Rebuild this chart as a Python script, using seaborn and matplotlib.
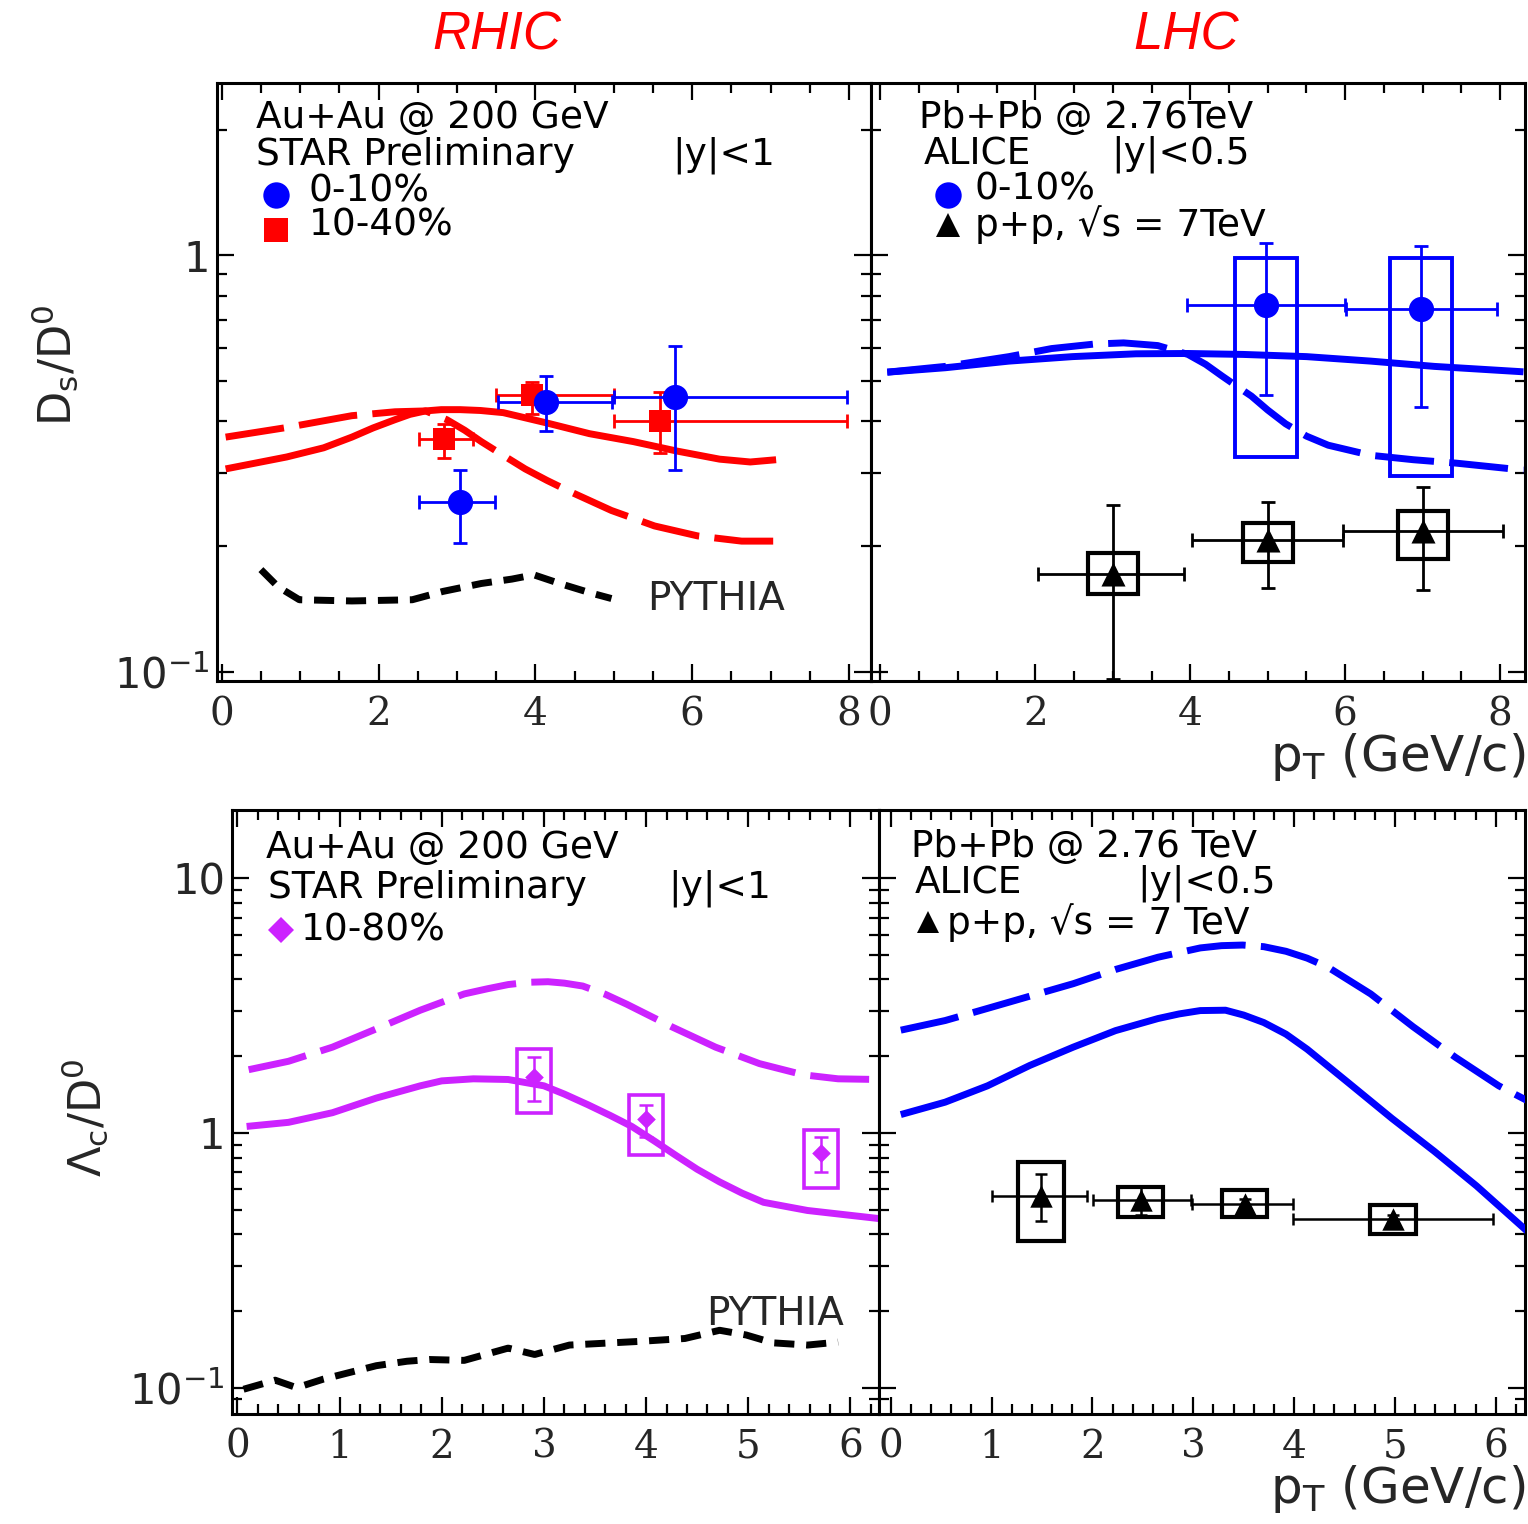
import numpy as np
import pandas as pd
import matplotlib
matplotlib.use("Agg")
import matplotlib.pyplot as plt
import seaborn as sns
from matplotlib.patches import Rectangle
from matplotlib.ticker import FixedLocator, MultipleLocator, NullFormatter, FixedFormatter

# ---------------- data ----------------
# Ds/D0 at RHIC (Au+Au 200 GeV, STAR preliminary)
rhic_ds_c_pt = [3.04, 4.14, 5.78]
rhic_ds_c_val = [0.256, 0.445, 0.456]
rhic_ds_c_xlo = [2.51, 3.52, 5.00]
rhic_ds_c_xhi = [3.48, 4.98, 7.97]
rhic_ds_c_ylo = [0.204, 0.379, 0.306]
rhic_ds_c_yhi = [0.306, 0.513, 0.604]

rhic_ds_m_pt = [2.83, 3.96, 5.59]
rhic_ds_m_val = [0.362, 0.463, 0.401]
rhic_ds_m_xlo = [2.51, 3.50, 5.00]
rhic_ds_m_xhi = [3.20, 5.00, 7.97]
rhic_ds_m_ylo = [0.327, 0.417, 0.335]
rhic_ds_m_yhi = [0.394, 0.496, 0.469]

rhic_ds_solid_pt = [0.05, 0.83, 1.30, 1.66, 1.93, 2.21, 2.40, 2.60, 2.80, 3.04, 3.30,
                    3.59, 3.85, 4.14, 4.69, 5.25, 5.80, 6.35, 6.74, 7.07]
rhic_ds_solid = [0.307, 0.328, 0.345, 0.366, 0.385, 0.403, 0.415, 0.423, 0.426, 0.426, 0.424,
                 0.419, 0.408, 0.396, 0.373, 0.357, 0.339, 0.324, 0.319, 0.323]
rhic_ds_dash_pt = [0.05, 0.83, 1.66, 2.21, 2.60, 2.87, 3.10, 3.31, 3.60, 3.87, 4.15,
                   4.42, 4.97, 5.52, 6.07, 6.63, 7.07]
rhic_ds_dash = [0.366, 0.386, 0.412, 0.421, 0.423, 0.403, 0.380, 0.357, 0.330, 0.307, 0.288,
                0.272, 0.244, 0.224, 0.212, 0.206, 0.206]
rhic_ds_pythia_pt = [0.50, 0.72, 0.99, 1.66, 2.43, 2.82, 3.31, 3.70, 3.98, 4.31, 4.69, 4.97]
rhic_ds_pythia = [0.176, 0.160, 0.149, 0.148, 0.149, 0.156, 0.163, 0.167, 0.171, 0.163, 0.155, 0.150]

# Ds/D0 at LHC (ALICE)
lhc_ds_pt = [4.98, 6.98]
lhc_ds_val = [0.758, 0.741]
lhc_ds_xlo = [3.96, 6.01]
lhc_ds_xhi = [6.00, 7.96]
lhc_ds_ylo = [0.461, 0.432]
lhc_ds_yhi = [1.067, 1.050]
lhc_ds_sys_lo = [0.328, 0.295]
lhc_ds_sys_hi = [0.985, 0.985]

lhc_ds_pp_pt = [3.00, 5.00, 7.00]
lhc_ds_pp_val = [0.172, 0.207, 0.218]
lhc_ds_pp_xlo = [2.04, 4.02, 5.97]
lhc_ds_pp_xhi = [3.92, 5.97, 8.03]
lhc_ds_pp_ylo = [0.096, 0.159, 0.157]
lhc_ds_pp_yhi = [0.251, 0.256, 0.278]
lhc_ds_pp_sys_lo = [0.154, 0.184, 0.187]
lhc_ds_pp_sys_hi = [0.193, 0.228, 0.243]

lhc_ds_solid_pt = [0.09, 0.84, 1.66, 2.48, 3.30, 3.97, 4.68, 5.50, 6.33, 7.15, 8.30]
lhc_ds_solid = [0.524, 0.537, 0.557, 0.571, 0.580, 0.581, 0.578, 0.571, 0.557, 0.541, 0.525]
lhc_ds_dash_pt = [0.09, 0.84, 1.66, 2.21, 2.76, 3.14, 3.58, 3.97, 4.20, 4.41, 4.60, 4.79,
                  5.00, 5.23, 5.50, 5.78, 6.33, 6.88, 7.43, 8.30]
lhc_ds_dash = [0.524, 0.541, 0.571, 0.597, 0.612, 0.616, 0.607, 0.578, 0.547, 0.513, 0.485, 0.459,
               0.425, 0.394, 0.368, 0.350, 0.331, 0.323, 0.317, 0.305]

# Lambda_c/D0 at RHIC (Au+Au 200 GeV, 10-80%)
rhic_lc_pt = [2.90, 4.00, 5.71]
rhic_lc_val = [1.65, 1.13, 0.832]
rhic_lc_ylo = [1.33, 0.963, 0.705]
rhic_lc_yhi = [1.99, 1.29, 0.963]
rhic_lc_sys_lo = [1.20, 0.817, 0.608]
rhic_lc_sys_hi = [2.13, 1.41, 1.03]

rhic_lc_solid_pt = [0.09, 0.50, 0.93, 1.36, 1.79, 2.00, 2.31, 2.65, 3.00, 3.20, 3.43, 3.65,
                    3.86, 4.08, 4.29, 4.50, 4.72, 4.94, 5.15, 5.58, 6.28]
rhic_lc_solid = [1.06, 1.10, 1.20, 1.37, 1.53, 1.60, 1.63, 1.62, 1.53, 1.42, 1.29, 1.17,
                 1.06, 0.93, 0.817, 0.72, 0.642, 0.58, 0.534, 0.496, 0.461]
rhic_lc_dash_pt = [0.11, 0.50, 0.93, 1.36, 1.79, 2.22, 2.45, 2.65, 2.85, 3.04, 3.20, 3.38,
                   3.60, 3.81, 4.25, 4.68, 5.11, 5.54, 5.88, 6.28]
rhic_lc_dash = [1.77, 1.91, 2.17, 2.56, 3.03, 3.51, 3.68, 3.82, 3.90, 3.92, 3.87, 3.77,
                3.50, 3.20, 2.61, 2.17, 1.87, 1.69, 1.63, 1.62]
rhic_lc_pythia_pt = [0.06, 0.37, 0.58, 0.84, 1.36, 1.66, 1.88, 2.22, 2.65, 2.91, 3.25, 3.94,
                     4.38, 4.72, 4.98, 5.24, 5.58, 5.88]
rhic_lc_pythia = [0.0986, 0.107, 0.100, 0.108, 0.122, 0.127, 0.129, 0.128, 0.143, 0.135, 0.147,
                  0.152, 0.156, 0.168, 0.161, 0.150, 0.147, 0.151]

# Lambda_c/D0 at LHC (ALICE p+p 7 TeV)
lhc_lc_pp_pt = [1.49, 2.48, 3.51, 4.98]
lhc_lc_pp_val = [0.565, 0.544, 0.525, 0.461]
lhc_lc_pp_xlo = [1.00, 2.01, 2.99, 3.99]
lhc_lc_pp_xhi = [1.95, 2.98, 3.99, 5.97]
lhc_lc_pp_ylo = [0.452, 0.478, 0.505, 0.445]
lhc_lc_pp_yhi = [0.691, 0.619, 0.550, 0.478]
lhc_lc_pp_sys_lo = [0.376, 0.469, 0.466, 0.402]
lhc_lc_pp_sys_hi = [0.767, 0.614, 0.597, 0.520]

lhc_lc_solid_pt = [0.10, 0.54, 0.96, 1.38, 1.81, 2.23, 2.65, 2.86, 3.07, 3.32, 3.50, 3.70,
                   3.92, 4.13, 4.55, 4.97, 5.39, 5.81, 6.31]
lhc_lc_solid = [1.18, 1.32, 1.53, 1.84, 2.17, 2.52, 2.81, 2.93, 3.02, 3.03, 2.90, 2.71,
                2.44, 2.13, 1.56, 1.14, 0.847, 0.619, 0.412]
lhc_lc_dash_pt = [0.10, 0.54, 0.96, 1.38, 1.81, 2.23, 2.65, 3.07, 3.28, 3.49, 3.70, 3.92,
                  4.13, 4.34, 4.76, 5.18, 5.60, 6.03, 6.31]
lhc_lc_dash = [2.53, 2.76, 3.08, 3.44, 3.85, 4.38, 4.89, 5.32, 5.43, 5.46, 5.38, 5.16,
               4.85, 4.46, 3.51, 2.61, 1.98, 1.53, 1.34]

# ---------------- style ----------------
sns.set_style("white")
plt.rcParams["font.family"] = ["DejaVu Sans"]
plt.rcParams["mathtext.fontset"] = "dejavusans"

RED = "#ff0000"
BLUE = "#0000ff"
MAG = "#cc22ff"
BLACK = "#000000"
LONG_DASH = (8.5, 2.2)
SHORT_DASH = (2.9, 1.7)
TXT = 27

W, H = 1528, 1524
fig = plt.figure(figsize=(W / 100, H / 100), dpi=100)


def frame(x0, y0, x1, y1):
    return [x0 / W, 1 - y1 / H, (x1 - x0) / W, (y1 - y0) / H]


ax_tl = fig.add_axes(frame(217, 83, 871, 681))
ax_tr = fig.add_axes(frame(871, 83, 1525, 681))
ax_bl = fig.add_axes(frame(232, 810, 879, 1413.5))
ax_br = fig.add_axes(frame(879, 810, 1525, 1413.5))
for a in (ax_tl, ax_tr, ax_bl, ax_br):
    a.set_yscale("log")


def style_axes(ax, xlim, ylim, xmajor, xminor, ymajor, yminor, ylabels):
    ax.set_xlim(*xlim)
    ax.set_ylim(*ylim)
    ax.xaxis.set_major_locator(MultipleLocator(xmajor))
    ax.xaxis.set_minor_locator(MultipleLocator(xminor))
    ax.xaxis.set_minor_formatter(NullFormatter())
    ax.yaxis.set_major_locator(FixedLocator(ymajor))
    ax.yaxis.set_minor_locator(FixedLocator(yminor))
    ax.yaxis.set_minor_formatter(NullFormatter())
    if ylabels:
        ax.yaxis.set_major_formatter(FixedFormatter(ylabels))
    else:
        ax.yaxis.set_major_formatter(NullFormatter())
    ax.tick_params(which="both", direction="in", top=True, right=True,
                   bottom=True, left=True, width=1.6, color=BLACK)
    ax.tick_params(which="major", length=12)
    ax.tick_params(which="minor", length=7)
    ax.tick_params(axis="x", which="major", labelsize=28, pad=11,
                   labelfontfamily="DejaVu Serif")
    ax.tick_params(axis="y", which="major", labelsize=30, pad=5)
    ax.set_xlabel("")
    ax.set_ylabel("")
    for s in ax.spines.values():
        s.set_linewidth(2.2)
        s.set_color(BLACK)
        s.set_visible(True)


def curve(ax, x, y, color, dashes=None, lw=5.0):
    df = pd.DataFrame({"pT": x, "ratio": y})
    sns.lineplot(data=df, x="pT", y="ratio", ax=ax, color=color, lw=lw,
                 sort=False, estimator=None, legend=False, zorder=3)
    line = ax.lines[-1]
    line.set_solid_capstyle("butt")
    line.set_dash_capstyle("butt")
    line.set_solid_joinstyle("round")
    if dashes is not None:
        line.set_dashes(dashes)


def points(ax, x, y, marker, size, color):
    sns.scatterplot(x=x, y=y, ax=ax, marker=marker, s=size, color=color,
                    edgecolor=color, linewidth=0, zorder=6, legend=False)


def errbars(ax, x, y, ylo, yhi, color, xlo=None, xhi=None, lw=2.0, cap=5):
    x = np.asarray(x, float)
    y = np.asarray(y, float)
    xerr = None
    if xlo is not None:
        xerr = [x - np.asarray(xlo), np.asarray(xhi) - x]
    yerr = [y - np.asarray(ylo), np.asarray(yhi) - y]
    ax.errorbar(x, y, xerr=xerr, yerr=yerr, fmt="none", ecolor=color,
                elinewidth=lw, capsize=cap, capthick=lw, zorder=5)


def sysboxes(ax, x, lo, hi, width, color, lw):
    for xi, l, h in zip(x, lo, hi):
        ax.add_patch(Rectangle((xi - width / 2, l), width, h - l, fill=False,
                               edgecolor=color, lw=lw, zorder=5))


def key(ax, fx, fy, marker, ms, color):
    ax.plot([fx], [fy], marker=marker, ms=ms, color=color, mec=color, mew=0,
            transform=ax.transAxes, clip_on=False, zorder=7)


def note(ax, fx, fy, s, size=TXT):
    ax.text(fx, fy, s, transform=ax.transAxes, fontsize=size, ha="left",
            va="center", color=BLACK)


# ---------- top left: RHIC Ds/D0 ----------
ax = ax_tl
curve(ax, rhic_ds_solid_pt, rhic_ds_solid, RED)
curve(ax, rhic_ds_dash_pt, rhic_ds_dash, RED, LONG_DASH)
curve(ax, rhic_ds_pythia_pt, rhic_ds_pythia, BLACK, SHORT_DASH)
errbars(ax, rhic_ds_m_pt, rhic_ds_m_val, rhic_ds_m_ylo, rhic_ds_m_yhi, RED,
        rhic_ds_m_xlo, rhic_ds_m_xhi)
points(ax, rhic_ds_m_pt, rhic_ds_m_val, "s", 260, RED)
errbars(ax, rhic_ds_c_pt, rhic_ds_c_val, rhic_ds_c_ylo, rhic_ds_c_yhi, BLUE,
        rhic_ds_c_xlo, rhic_ds_c_xhi)
points(ax, rhic_ds_c_pt, rhic_ds_c_val, "o", 330, BLUE)
ax.text(5.42, 0.150, "PYTHIA", fontsize=28, ha="left", va="center")
note(ax, 0.060, 0.941, "Au+Au @ 200 GeV")
note(ax, 0.060, 0.879, "STAR Preliminary")
note(ax, 0.696, 0.879, "|y|<1")
key(ax, 0.090, 0.813, "o", 19, BLUE)
note(ax, 0.140, 0.819, "0-10%")
key(ax, 0.090, 0.755, "s", 17, RED)
note(ax, 0.140, 0.761, "10-40%")

# ---------- top right: LHC Ds/D0 ----------
ax = ax_tr
curve(ax, lhc_ds_solid_pt, lhc_ds_solid, BLUE)
curve(ax, lhc_ds_dash_pt, lhc_ds_dash, BLUE, LONG_DASH)
sysboxes(ax, lhc_ds_pt, lhc_ds_sys_lo, lhc_ds_sys_hi, 0.80, BLUE, 2.8)
errbars(ax, lhc_ds_pt, lhc_ds_val, lhc_ds_ylo, lhc_ds_yhi, BLUE,
        lhc_ds_xlo, lhc_ds_xhi)
points(ax, lhc_ds_pt, lhc_ds_val, "o", 330, BLUE)
sysboxes(ax, lhc_ds_pp_pt, lhc_ds_pp_sys_lo, lhc_ds_pp_sys_hi, 0.64, BLACK, 3.0)
errbars(ax, lhc_ds_pp_pt, lhc_ds_pp_val, lhc_ds_pp_ylo, lhc_ds_pp_yhi, BLACK,
        lhc_ds_pp_xlo, lhc_ds_pp_xhi)
points(ax, lhc_ds_pp_pt, lhc_ds_pp_val, "^", 300, BLACK)
note(ax, 0.074, 0.941, "Pb+Pb @ 2.76TeV")
note(ax, 0.081, 0.881, "ALICE")
note(ax, 0.367, 0.881, "|y|<0.5")
key(ax, 0.117, 0.813, "o", 19, BLUE)
note(ax, 0.159, 0.822, "0-10%")
key(ax, 0.117, 0.762, "^", 17, BLACK)
note(ax, 0.159, 0.764, "p+p, \u221as = 7TeV")

# ---------- bottom left: RHIC Lambda_c/D0 ----------
ax = ax_bl
curve(ax, rhic_lc_solid_pt, rhic_lc_solid, MAG)
curve(ax, rhic_lc_dash_pt, rhic_lc_dash, MAG, LONG_DASH)
curve(ax, rhic_lc_pythia_pt, rhic_lc_pythia, BLACK, SHORT_DASH)
sysboxes(ax, rhic_lc_pt, rhic_lc_sys_lo, rhic_lc_sys_hi, 0.33, MAG, 2.6)
errbars(ax, rhic_lc_pt, rhic_lc_val, rhic_lc_ylo, rhic_lc_yhi, MAG, lw=1.8, cap=5)
points(ax, rhic_lc_pt, rhic_lc_val, "D", 90, MAG)
ax.text(4.585, 0.194, "PYTHIA", fontsize=28, ha="left", va="center")
note(ax, 0.053, 0.937, "Au+Au @ 200 GeV")
note(ax, 0.056, 0.871, "STAR Preliminary")
note(ax, 0.675, 0.871, "|y|<1")
key(ax, 0.076, 0.801, "D", 13, MAG)
note(ax, 0.107, 0.801, "10-80%")

# ---------- bottom right: LHC Lambda_c/D0 ----------
ax = ax_br
curve(ax, lhc_lc_solid_pt, lhc_lc_solid, BLUE)
curve(ax, lhc_lc_dash_pt, lhc_lc_dash, BLUE, LONG_DASH)
sysboxes(ax, lhc_lc_pp_pt, lhc_lc_pp_sys_lo, lhc_lc_pp_sys_hi, 0.45, BLACK, 3.0)
errbars(ax, lhc_lc_pp_pt, lhc_lc_pp_val, lhc_lc_pp_ylo, lhc_lc_pp_yhi, BLACK,
        lhc_lc_pp_xlo, lhc_lc_pp_xhi, lw=1.8, cap=4)
points(ax, lhc_lc_pp_pt, lhc_lc_pp_val, "^", 260, BLACK)
note(ax, 0.050, 0.939, "Pb+Pb @ 2.76 TeV")
note(ax, 0.056, 0.878, "ALICE")
note(ax, 0.399, 0.878, "|y|<0.5")
key(ax, 0.076, 0.814, "^", 16, BLACK)
note(ax, 0.106, 0.814, "p+p, \u221as = 7 TeV")

# ---------- axes, ticks ----------
top_major = [0.1, 1.0]
top_minor = [0.2, 0.3, 0.4, 0.5, 0.6, 0.7, 0.8, 0.9, 2.0]
bot_major = [0.1, 1.0, 10.0]
bot_minor = [m * d for d in (0.1, 1.0) for m in range(2, 10)] + [0.09]

style_axes(ax_tl, (-0.06, 8.28), (0.0951, 2.59), 2, 0.5, top_major, top_minor,
           [r"10$^{-1}$", "1"])
style_axes(ax_tr, (-0.12, 8.32), (0.0951, 2.59), 2, 0.5, top_major, top_minor, None)
style_axes(ax_bl, (-0.053, 6.28), (0.0792, 18.5), 1, 0.2, bot_major, bot_minor,
           [r"10$^{-1}$", "1", "10"])
style_axes(ax_br, (-0.116, 6.29), (0.0792, 18.5), 1, 0.2, bot_major, bot_minor, None)

# ---------- figure labels ----------
fig.text(496.7 / W, 1 - 49 / H, "RHIC", color=RED, fontsize=38, style="italic",
         family="Liberation Sans", ha="center", va="baseline")
fig.text(1186 / W, 1 - 49 / H, "LHC", color=RED, fontsize=38, style="italic",
         family="Liberation Sans", ha="center", va="baseline")
fig.text(55 / W, 1 - 365 / H, r"$\mathregular{D_s/D^0}$", rotation=90,
         fontsize=32, ha="center", va="center")
fig.text(85 / W, 1 - 1118 / H, r"$\mathregular{\Lambda_c/D^0}$", rotation=90,
         fontsize=32, ha="center", va="center")
fig.text(1526 / W, 1 - 771 / H, r"$\mathregular{p_T}$ (GeV/c)", fontsize=36,
         ha="right", va="baseline")
fig.text(1526 / W, 1 - 1503 / H, r"$\mathregular{p_T}$ (GeV/c)", fontsize=36,
         ha="right", va="baseline")

fig.savefig("out.png", dpi=100, facecolor="white")
